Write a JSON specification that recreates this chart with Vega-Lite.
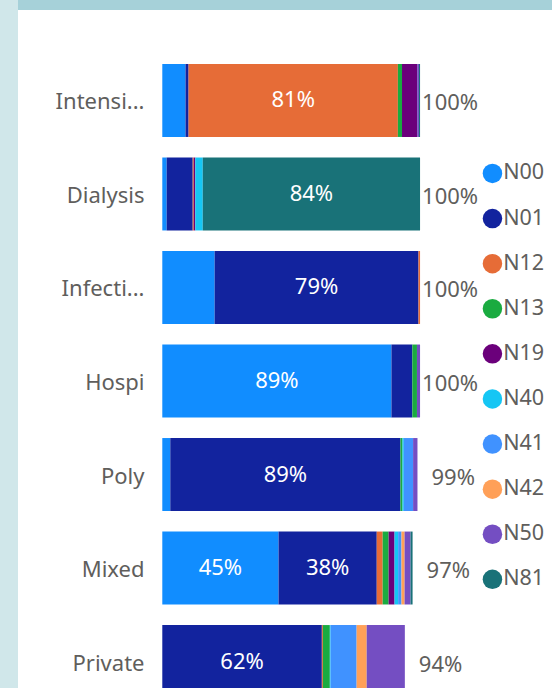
{
  "$schema": "https://vega.github.io/schema/vega-lite/v6.json",
  "width": 534,
  "height": 683,
  "autosize": {"type": "none"},
  "padding": {"left": 18, "top": 5, "right": 0, "bottom": 0},
  "background": "#D0E7EA",
  "config": {
    "view": {"fill": "#ffffff", "stroke": "#A6D1D9", "strokeWidth": 10, "strokeDash": [534, 5000]},
    "font": "Noto Sans"
  },
  "data": {
    "values": [
      {"cat": "Intensi...", "series": "N00", "value": 0.090},
      {"cat": "Intensi...", "series": "N01", "value": 0.012},
      {"cat": "Intensi...", "series": "N12", "value": 0.812},
      {"cat": "Intensi...", "series": "N13", "value": 0.016},
      {"cat": "Intensi...", "series": "N19", "value": 0.059},
      {"cat": "Intensi...", "series": "N50", "value": 0.007},
      {"cat": "Intensi...", "series": "N81", "value": 0.004},
      {"cat": "Dialysis", "series": "N00", "value": 0.017},
      {"cat": "Dialysis", "series": "N01", "value": 0.101},
      {"cat": "Dialysis", "series": "N12", "value": 0.004},
      {"cat": "Dialysis", "series": "N19", "value": 0.006},
      {"cat": "Dialysis", "series": "N40", "value": 0.029},
      {"cat": "Dialysis", "series": "N81", "value": 0.843},
      {"cat": "Infecti...", "series": "N00", "value": 0.203},
      {"cat": "Infecti...", "series": "N01", "value": 0.791},
      {"cat": "Infecti...", "series": "N12", "value": 0.006},
      {"cat": "Hospi", "series": "N00", "value": 0.889},
      {"cat": "Hospi", "series": "N01", "value": 0.081},
      {"cat": "Hospi", "series": "N13", "value": 0.018},
      {"cat": "Hospi", "series": "N50", "value": 0.012},
      {"cat": "Poly", "series": "N00", "value": 0.031},
      {"cat": "Poly", "series": "N01", "value": 0.893},
      {"cat": "Poly", "series": "N13", "value": 0.008},
      {"cat": "Poly", "series": "N40", "value": 0.005},
      {"cat": "Poly", "series": "N41", "value": 0.036},
      {"cat": "Poly", "series": "N50", "value": 0.017},
      {"cat": "Mixed", "series": "N00", "value": 0.451},
      {"cat": "Mixed", "series": "N01", "value": 0.381},
      {"cat": "Mixed", "series": "N12", "value": 0.023},
      {"cat": "Mixed", "series": "N13", "value": 0.023},
      {"cat": "Mixed", "series": "N19", "value": 0.023},
      {"cat": "Mixed", "series": "N40", "value": 0.014},
      {"cat": "Mixed", "series": "N41", "value": 0.013},
      {"cat": "Mixed", "series": "N42", "value": 0.012},
      {"cat": "Mixed", "series": "N50", "value": 0.023},
      {"cat": "Mixed", "series": "N81", "value": 0.008},
      {"cat": "Private", "series": "N01", "value": 0.619},
      {"cat": "Private", "series": "N12", "value": 0.004},
      {"cat": "Private", "series": "N13", "value": 0.027},
      {"cat": "Private", "series": "N40", "value": 0.003},
      {"cat": "Private", "series": "N41", "value": 0.101},
      {"cat": "Private", "series": "N42", "value": 0.039},
      {"cat": "Private", "series": "N50", "value": 0.148}
    ]
  },
  "encoding": {
    "y": {
      "field": "cat",
      "type": "nominal",
      "sort": ["Intensi...", "Dialysis", "Infecti...", "Hospi", "Poly", "Mixed", "Private"],
      "scale": {"range": [0, 752], "paddingInner": 0.22, "paddingOuter": 0.631},
      "axis": {
        "title": null,
        "ticks": false,
        "tickSize": 0,
        "domain": false,
        "grid": false,
        "labelPadding": 0,
        "labelOffset": 2,
        "offset": -126,
        "labelFontSize": 22,
        "labelColor": "#605E5C",
        "labelFont": "Noto Sans",
        "labelLimit": 300
      }
    }
  },
  "layer": [
    {
      "mark": {"type": "bar"},
      "encoding": {
        "x": {
          "field": "value",
          "type": "quantitative",
          "stack": "zero",
          "scale": {"domain": [-0.5598, 1.5119], "nice": false, "zero": false},
          "axis": null
        },
        "order": {"field": "series", "type": "ordinal", "sort": "ascending"},
        "color": {
          "field": "series",
          "type": "nominal",
          "scale": {
            "domain": ["N00", "N01", "N12", "N13", "N19", "N40", "N41", "N42", "N50", "N81"],
            "range": ["#118DFF", "#12239E", "#E66C37", "#1AAB40", "#6B007B", "#15C6F4", "#4092FF", "#FFA058", "#744EC2", "#197278"]
          },
          "legend": {
            "title": null,
            "orient": "none",
            "legendX": 463.7,
            "legendY": 157.7,
            "padding": 0,
            "symbolType": "circle",
            "symbolSize": 380,
            "symbolStrokeWidth": 0,
            "symbolOpacity": 1,
            "labelFontSize": 21.5,
            "labelFont": "Noto Sans",
            "labelColor": "#605E5C",
            "labelOffset": 0,
            "rowPadding": 22.1
          }
        }
      }
    },
    {
      "mark": {"type": "text", "color": "#ffffff", "fontSize": 22},
      "encoding": {
        "x": {
          "field": "value",
          "type": "quantitative",
          "stack": "zero",
          "bandPosition": 0.5,
          "scale": {"domain": [-0.5598, 1.5119], "nice": false, "zero": false}
        },
        "detail": {"field": "series", "type": "nominal"},
        "order": {"field": "series", "type": "ordinal", "sort": "ascending"},
        "text": {
          "condition": {"test": "datum.value > 0.3", "field": "value", "type": "quantitative", "format": ".0%"},
          "value": ""
        }
      }
    },
    {
      "transform": [
        {"aggregate": [{"op": "sum", "field": "value", "as": "total"}], "groupby": ["cat"]},
        {"filter": "datum.total >= 0.995"}
      ],
      "mark": {"type": "text", "align": "left", "dx": 2, "dy": 3, "fontSize": 22, "color": "#605E5C"},
      "encoding": {
        "x": {"field": "total", "type": "quantitative", "scale": {"domain": [-0.5598, 1.5119], "nice": false, "zero": false}},
        "text": {"field": "total", "type": "quantitative", "format": ".0%"}
      }
    },
    {
      "transform": [
        {"aggregate": [{"op": "sum", "field": "value", "as": "total"}], "groupby": ["cat"]},
        {"filter": "datum.total < 0.995"}
      ],
      "mark": {"type": "text", "align": "left", "dx": 14, "dy": 3, "fontSize": 22, "color": "#605E5C"},
      "encoding": {
        "x": {"field": "total", "type": "quantitative", "scale": {"domain": [-0.5598, 1.5119], "nice": false, "zero": false}},
        "text": {"field": "total", "type": "quantitative", "format": ".0%"}
      }
    }
  ]
}
